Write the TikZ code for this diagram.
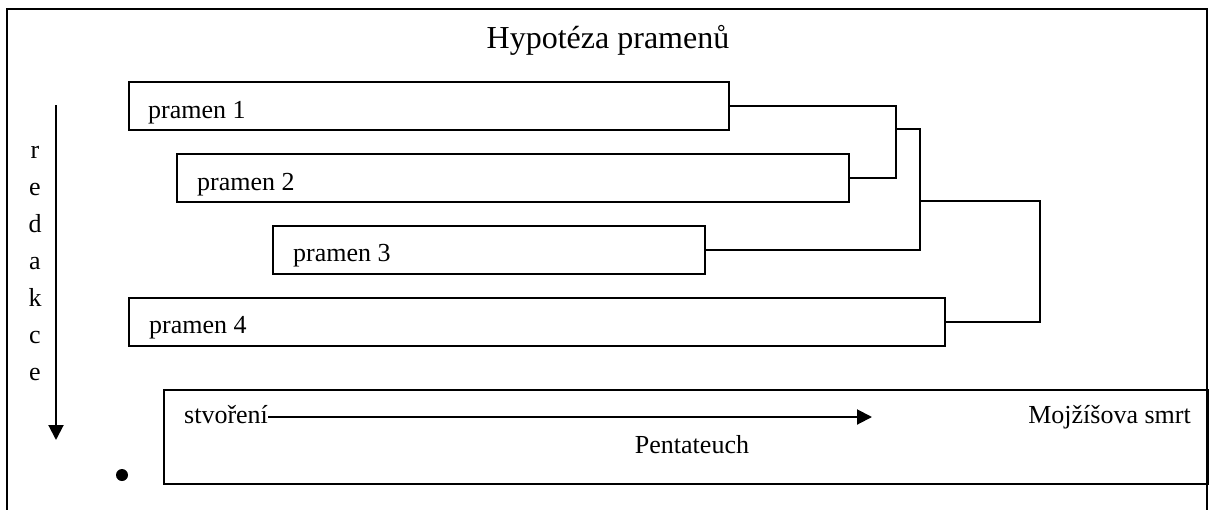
\documentclass[tikz,border=0pt]{standalone}
\usepackage{fontspec}
\setmainfont{Liberation Serif}
\usetikzlibrary{arrows.meta}
\tikzset{
  box/.style={draw, line width=2pt, rectangle, inner sep=0pt, anchor=north west},
  lbl/.style={inner sep=0pt, font=\fontsize{26}{30}\selectfont},
  conn/.style={draw, line width=2pt},
  arr/.style={line width=2pt, -{Triangle[length=15pt,width=15pt]}}
}
\begin{document}
\begin{tikzpicture}[x=1pt,y=-1pt]
\useasboundingbox (0,0) rectangle (1209,509);
% outer frame (bottom cut off)
\draw[line width=2pt] (7,515) -- (7,9) -- (1207,9) -- (1207,515);
% title
\node[inner sep=0pt, font=\fontsize{32}{36}\selectfont, anchor=base] (title) at (608,48) {Hypotéza pramenů};
% source boxes
\node[box, minimum width=600pt, minimum height=48pt] (b1) at (128,81) {};
\node[box, minimum width=672pt, minimum height=48pt] (b2) at (176,153) {};
\node[box, minimum width=432pt, minimum height=48pt] (b3) at (272,225) {};
\node[box, minimum width=816pt, minimum height=48pt] (b4) at (128,297) {};
\node[lbl, anchor=base west] (t1) at ([xshift=20pt,yshift=-12pt]b1.west) {pramen 1};
\node[lbl, anchor=base west] (t2) at ([xshift=21pt,yshift=-12pt]b2.west) {pramen 2};
\node[lbl, anchor=base west] (t3) at ([xshift=21pt,yshift=-11pt]b3.west) {pramen 3};
\node[lbl, anchor=base west] (t4) at ([xshift=21pt,yshift=-11pt]b4.west) {pramen 4};
% brackets
\coordinate (k1) at (896,129);
\coordinate (k2) at (920,201);
\coordinate (k3) at (1040,0);
\draw[conn] (b1.east) -| (k1) |- (b2.east);
\draw[conn] (k1) -| (k2) |- (b3.east);
\draw[conn] (k2) -| (k3 |- b4.east) -- (b4.east);
% redakce
\foreach \l [count=\i] in {r,e,d,a,k,c,e}
  \node[lbl, anchor=base] (red\i) at (35,{158+37*(\i-1)}) {\l};
\coordinate (r0) at (56,105);
\coordinate (r1) at (56,440);
\draw[arr] (r0) -- (r1);
% bullet
\node[circle, fill, minimum size=12pt, inner sep=0pt] (dot) at (122,475) {};
% Pentateuch box
\node[box, minimum width=1044pt, minimum height=94pt] (pb) at (163,389) {};
\node[lbl, anchor=base west] (st) at (184,423) {stvoření};
\node[lbl, anchor=base east] (ms) at (1191,423) {Mojžíšova smrt};
\node[lbl, anchor=base] (pt) at (692,453) {Pentateuch};
\coordinate (aend) at (872,417);
\draw[arr] (st.east |- aend) -- (aend);
\end{tikzpicture}
\end{document}
